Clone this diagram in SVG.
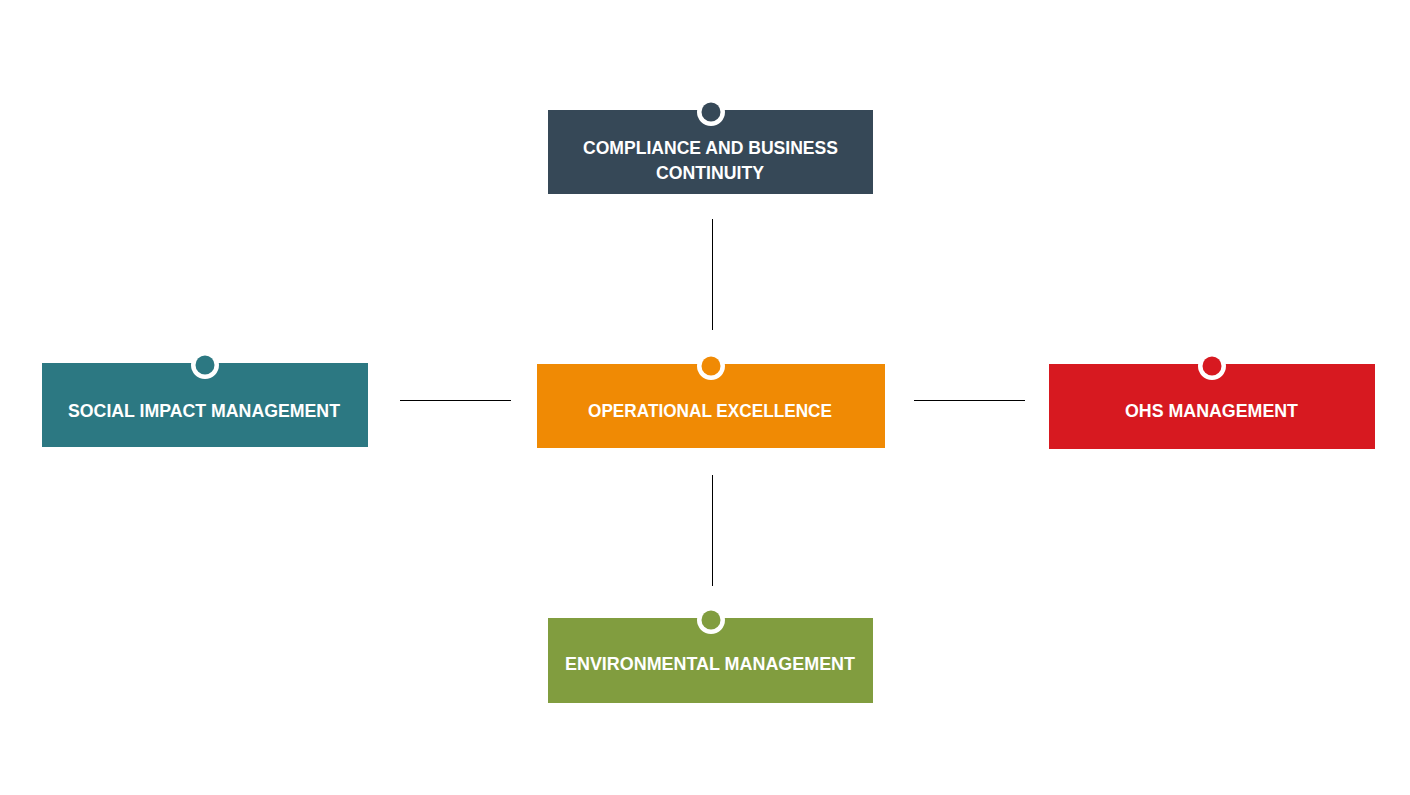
<svg xmlns="http://www.w3.org/2000/svg" width="1410" height="795" viewBox="0 0 1410 795">
<style>
.lbl{font-family:"Liberation Sans","DejaVu Sans",sans-serif;font-weight:bold;font-size:18.5px;fill:#ffffff;text-anchor:middle}
.ring{fill:#ffffff}
.conn line{stroke:#000000;stroke-width:1}
</style>
<rect x="0" y="0" width="1410" height="795" fill="#ffffff"/>
<g id="connectors" class="conn">
<line x1="712.5" y1="219" x2="712.5" y2="330"/>
<line x1="712.5" y1="475" x2="712.5" y2="586"/>
<line x1="400" y1="400.5" x2="511" y2="400.5"/>
<line x1="914" y1="400.5" x2="1025" y2="400.5"/>
</g>
<g id="compliance">
<rect x="548" y="110" width="325" height="84" fill="#364857"/>
<circle class="ring" cx="711" cy="112" r="14"/>
<circle cx="711" cy="112" r="9.5" fill="#364857"/>
<text class="lbl" x="710.5" y="153.5" textLength="255" lengthAdjust="spacingAndGlyphs">COMPLIANCE AND BUSINESS</text>
<text class="lbl" x="710" y="178.5" textLength="108" lengthAdjust="spacingAndGlyphs">CONTINUITY</text>
</g>
<g id="social">
<rect x="42" y="363" width="326" height="84" fill="#2c7882"/>
<circle class="ring" cx="205" cy="365" r="14"/>
<circle cx="205" cy="365" r="9.5" fill="#2c7882"/>
<text class="lbl" x="204" y="417" textLength="272" lengthAdjust="spacingAndGlyphs">SOCIAL IMPACT MANAGEMENT</text>
</g>
<g id="operational">
<rect x="537" y="364" width="348" height="84" fill="#f08a04"/>
<circle class="ring" cx="711" cy="366" r="14"/>
<circle cx="711" cy="366" r="9.5" fill="#f08a04"/>
<text class="lbl" x="710" y="417" textLength="244" lengthAdjust="spacingAndGlyphs">OPERATIONAL EXCELLENCE</text>
</g>
<g id="ohs">
<rect x="1049" y="364" width="326" height="85" fill="#d71920"/>
<circle class="ring" cx="1212" cy="366" r="14"/>
<circle cx="1212" cy="366" r="9.5" fill="#d71920"/>
<text class="lbl" x="1211.5" y="417" textLength="173" lengthAdjust="spacingAndGlyphs">OHS MANAGEMENT</text>
</g>
<g id="environmental">
<rect x="548" y="618" width="325" height="85" fill="#819d3f"/>
<circle class="ring" cx="711" cy="620" r="14"/>
<circle cx="711" cy="620" r="9.5" fill="#819d3f"/>
<text class="lbl" x="710" y="670" textLength="290" lengthAdjust="spacingAndGlyphs">ENVIRONMENTAL MANAGEMENT</text>
</g>
</svg>
